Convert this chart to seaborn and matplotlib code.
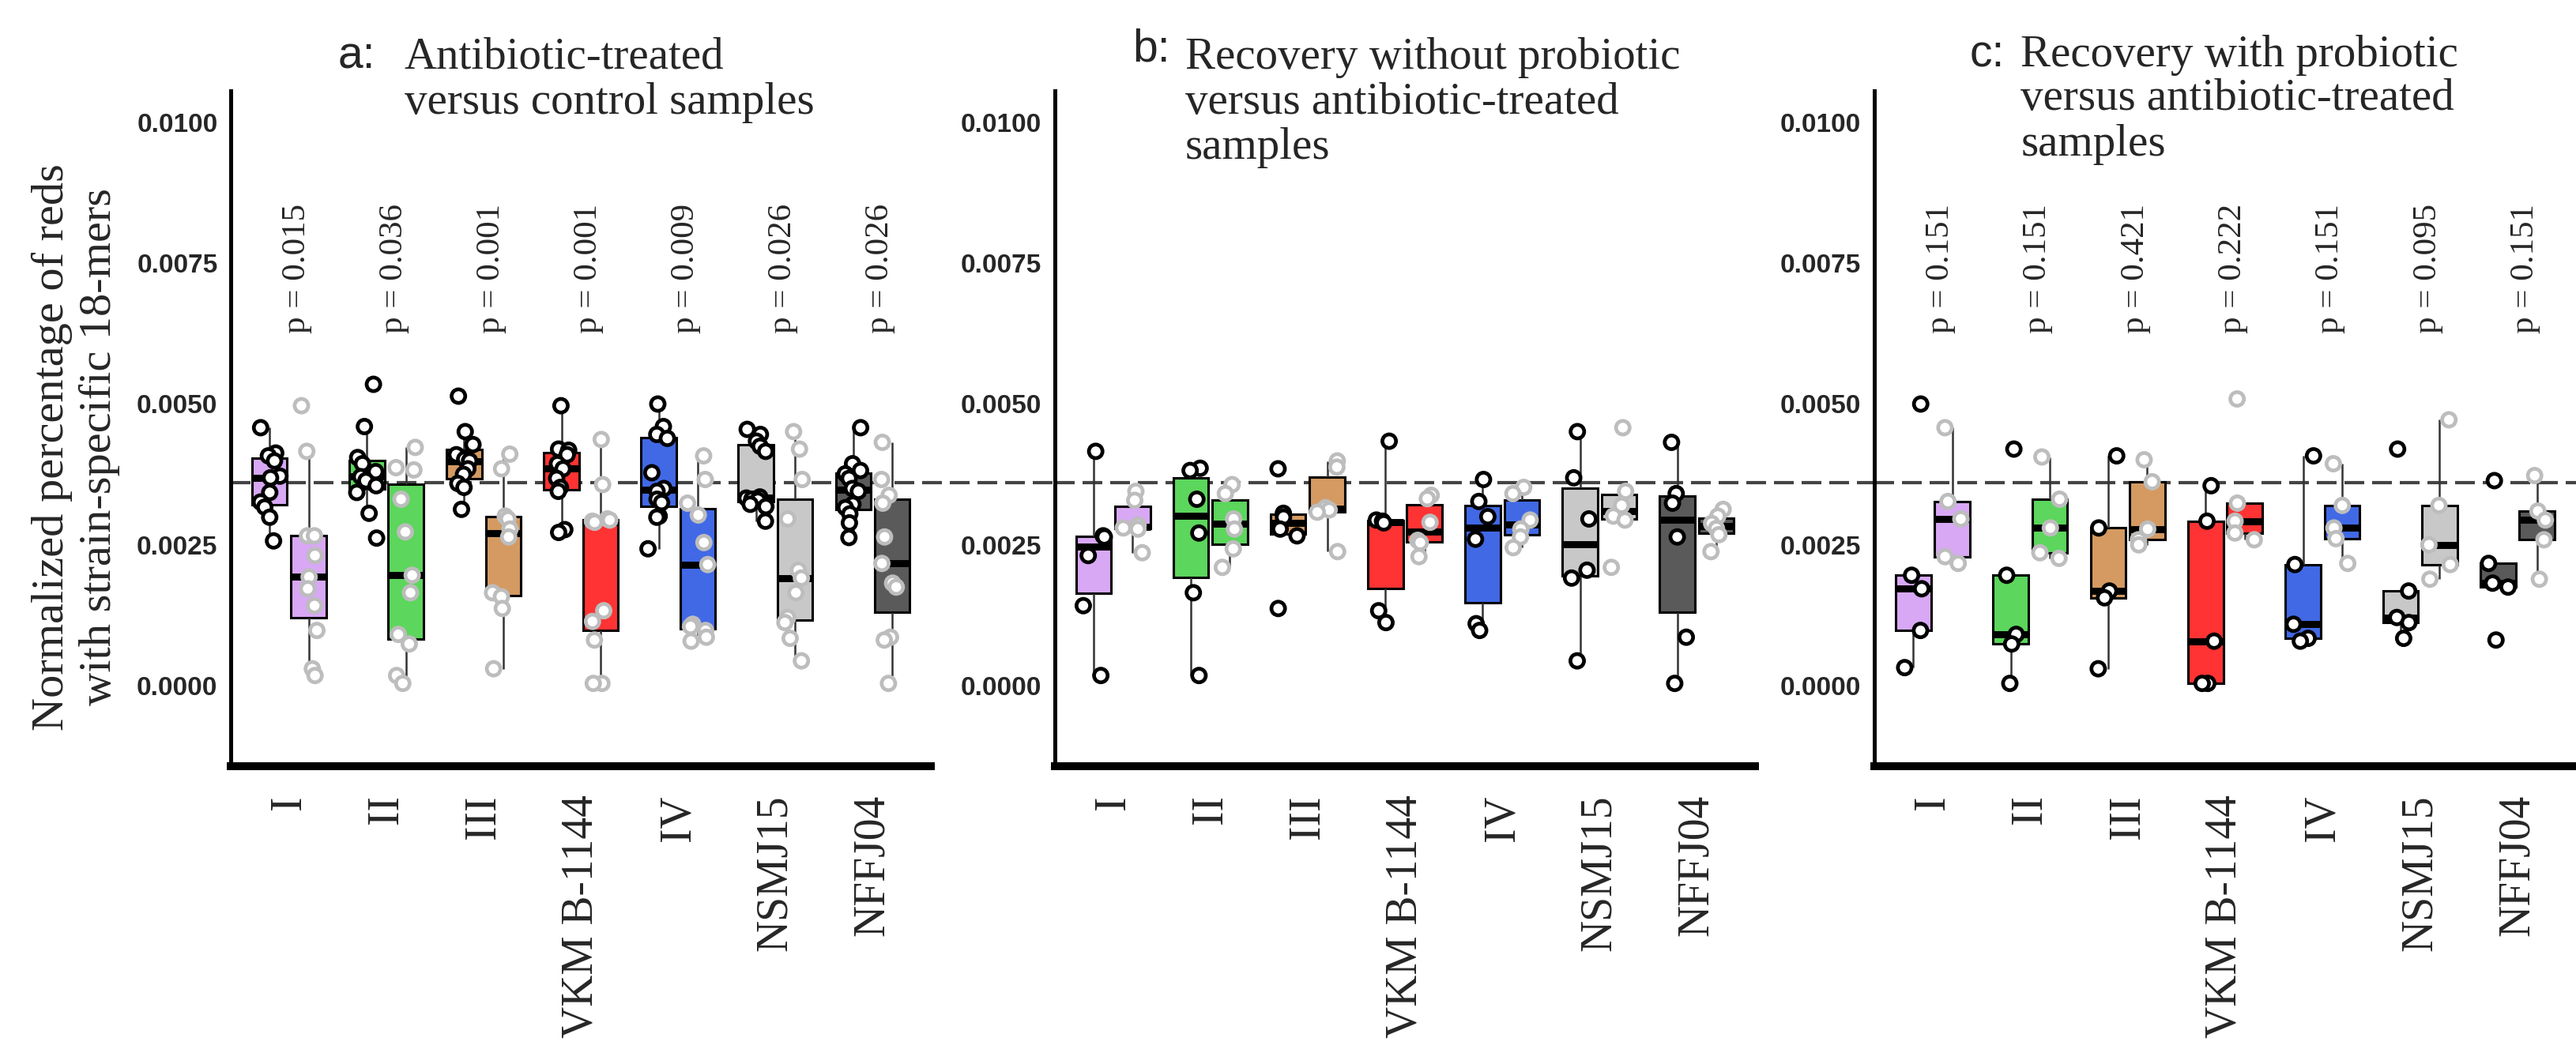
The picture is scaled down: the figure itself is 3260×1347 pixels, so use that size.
import numpy as np
import pandas as pd
import seaborn as sns
import matplotlib.pyplot as plt
from matplotlib import font_manager

np.random.seed(7)

strains = ['I', 'II', 'III', 'VKM B-1144', 'IV', 'NSMJ15', 'NFFJ04']
strain_colors = ['#D8A8F5', '#5CD65C', '#D49A62', '#FF3333', '#4169E6', '#C8C8C8', '#5A5A5A']
groups = ['ref', 'cmp']
point_edges = {'ref': 'black', 'cmp': '#BDBDBD'}

# panel a: antibiotic-treated versus control
a_ref = [
    [0.00458, 0.00413, 0.00408, 0.00399, 0.00372, 0.00369, 0.00343, 0.00326, 0.00317, 0.00299, 0.00257],
    [0.00535, 0.00460, 0.00405, 0.00394, 0.00380, 0.00371, 0.00364, 0.00355, 0.00343, 0.00306, 0.00262],
    [0.00514, 0.00451, 0.00428, 0.00410, 0.00402, 0.00399, 0.00385, 0.00375, 0.00359, 0.00352, 0.00313],
    [0.00497, 0.00420, 0.00418, 0.00410, 0.00394, 0.00385, 0.00368, 0.00352, 0.00345, 0.00277, 0.00272],
    [0.00500, 0.00460, 0.00446, 0.00439, 0.00378, 0.00350, 0.00345, 0.00331, 0.00325, 0.00301, 0.00299, 0.00243],
    [0.00455, 0.00446, 0.00434, 0.00425, 0.00416, 0.00335, 0.00333, 0.00331, 0.00329, 0.00322, 0.00318, 0.00292],
    [0.00458, 0.00394, 0.00382, 0.00376, 0.00368, 0.00350, 0.00345, 0.00322, 0.00316, 0.00305, 0.00289, 0.00263],
]
a_cmp = [
    [0.00497, 0.00416, 0.00266, 0.00266, 0.00231, 0.00193, 0.00172, 0.00142, 0.00098, 0.00030, 0.00018],
    [0.00423, 0.00387, 0.00383, 0.00331, 0.00273, 0.00196, 0.00165, 0.00091, 0.00074, 0.00018, 0.00004],
    [0.00411, 0.00385, 0.00301, 0.00296, 0.00278, 0.00264, 0.00165, 0.00158, 0.00137, 0.00030],
    [0.00437, 0.00357, 0.00296, 0.00294, 0.00292, 0.00290, 0.00133, 0.00114, 0.00081, 0.00004, 0.00004],
    [0.00408, 0.00366, 0.00324, 0.00303, 0.00254, 0.00215, 0.00109, 0.00105, 0.00098, 0.00086, 0.00079],
    [0.00451, 0.00420, 0.00366, 0.00296, 0.00205, 0.00191, 0.00165, 0.00121, 0.00112, 0.00084, 0.00044],
    [0.00432, 0.00366, 0.00338, 0.00324, 0.00264, 0.00217, 0.00182, 0.00175, 0.00086, 0.00081, 0.00004],
]
a_pvals = ['0.015', '0.036', '0.001', '0.001', '0.009', '0.026', '0.026']

# panel b: recovery without probiotic
b_ref = [
    [0.00416, 0.00266, 0.00264, 0.00231, 0.00142, 0.00018],
    [0.00386, 0.00382, 0.00331, 0.00271, 0.00165, 0.00018],
    [0.00385, 0.00306, 0.00299, 0.00278, 0.00266, 0.00137],
    [0.00434, 0.00294, 0.00292, 0.00289, 0.00133, 0.00112],
    [0.00366, 0.00327, 0.00300, 0.00260, 0.00110, 0.00098],
    [0.00451, 0.00369, 0.00296, 0.00205, 0.00191, 0.00044],
    [0.00432, 0.00341, 0.00324, 0.00264, 0.00086, 0.00004],
]
b_cmp = [
    [0.00345, 0.00329, 0.00285, 0.00280, 0.00278, 0.00236],
    [0.00357, 0.00341, 0.00296, 0.00278, 0.00243, 0.00210],
    [0.00399, 0.00388, 0.00316, 0.00312, 0.00308, 0.00238],
    [0.00338, 0.00332, 0.00290, 0.00258, 0.00254, 0.00229],
    [0.00352, 0.00341, 0.00294, 0.00278, 0.00264, 0.00245],
    [0.00458, 0.00345, 0.00320, 0.00301, 0.00294, 0.00210],
    [0.00313, 0.00301, 0.00288, 0.00279, 0.00268, 0.00238],
]
b_pvals = []

# panel c: recovery with probiotic
c_ref = [
    [0.00500, 0.00196, 0.00172, 0.00098, 0.00032],
    [0.00420, 0.00196, 0.00091, 0.00074, 0.00004],
    [0.00408, 0.00280, 0.00168, 0.00156, 0.00030],
    [0.00355, 0.00292, 0.00079, 0.00004, 0.00004],
    [0.00408, 0.00215, 0.00109, 0.00084, 0.00079],
    [0.00420, 0.00168, 0.00121, 0.00112, 0.00084],
    [0.00364, 0.00217, 0.00182, 0.00175, 0.00081],
]
c_cmp = [
    [0.00458, 0.00327, 0.00296, 0.00229, 0.00217],
    [0.00406, 0.00331, 0.00280, 0.00236, 0.00226],
    [0.00401, 0.00362, 0.00278, 0.00259, 0.00250],
    [0.00509, 0.00324, 0.00292, 0.00271, 0.00259],
    [0.00394, 0.00320, 0.00280, 0.00261, 0.00217],
    [0.00472, 0.00320, 0.00250, 0.00215, 0.00189],
    [0.00373, 0.00310, 0.00294, 0.00259, 0.00189],
]
c_pvals = ['0.151', '0.151', '0.421', '0.222', '0.151', '0.095', '0.151']

control_level = 0.0036
yticks = [0.0, 0.0025, 0.005, 0.0075, 0.01]

titles = [
    ('a:', ['Antibiotic-treated', 'versus control samples']),
    ('b:', ['Recovery without probiotic', 'versus antibiotic-treated', 'samples']),
    ('c:', ['Recovery with probiotic', 'versus antibiotic-treated', 'samples']),
]
ylabel = 'Normalized percentage of reds\nwith strain-specific 18-mers'

sns.set_theme(style='white')
installed = {f.name for f in font_manager.fontManager.ttflist}
serif = 'Liberation Serif'
sans = 'Liberation Sans'
narrow = 'Liberation Sans Narrow' if 'Liberation Sans Narrow' in installed else sans
plt.rcParams['font.family'] = [serif, 'DejaVu Serif']


def to_frame(ref, cmp):
    rows = []
    for g, vals in zip(groups, [ref, cmp]):
        for s, v in zip(strains, vals):
            for x in v:
                rows.append({'strain': s, 'group': g, 'value': x})
    return pd.DataFrame(rows)


def draw_panel(ax, ref, cmp, pvals):
    df = to_frame(ref, cmp)
    sns.boxplot(data=df, x='strain', y='value', hue='group', order=strains,
                hue_order=groups, palette={'ref': 'white', 'cmp': 'white'},
                dodge=True, width=0.8, gap=0.1, showfliers=False,
                linecolor='black', linewidth=1.1, legend=False, ax=ax,
                medianprops=dict(linewidth=3.2, color='black'),
                whiskerprops=dict(linewidth=0.9, color='#333333'),
                capprops=dict(visible=False))
    for patch in ax.patches:
        xc = patch.get_path().vertices[:, 0].mean()
        patch.set_facecolor(strain_colors[int(round(xc))])
        patch.set_zorder(1.5)
    for g in groups:
        sns.stripplot(data=df[df['group'] == g], x='strain', y='value', hue='group',
                      order=strains, hue_order=groups,
                      palette={'ref': 'white', 'cmp': 'white'},
                      dodge=True, jitter=0.22, size=6.2, linewidth=1.7,
                      edgecolor=point_edges[g], legend=False, ax=ax, zorder=3)
    for i, p in enumerate(pvals):
        ax.text(i + 0.08, 0.0074, f'p = {p}', rotation=90, ha='center', va='center',
                fontsize=15.5, family=serif)

    ax.set_xlim(-0.6, 6.6)
    ax.set_ylim(-0.00143, 0.01056)
    ax.set_yticks(yticks)
    ax.set_yticklabels([f'{t:.4f}' for t in yticks], fontsize=12,
                       fontweight='bold', family=narrow)
    ax.set_xticks(range(len(strains)))
    ax.set_xticklabels(strains, rotation=90, fontsize=20, family=serif)
    ax.set_xlabel('')
    ax.set_ylabel('')
    ax.tick_params(axis='y', length=3, width=0.8, pad=3, color='#777777')
    ax.tick_params(axis='x', length=4, width=0.8, pad=9, color='#777777')
    for side in ['top', 'right']:
        ax.spines[side].set_visible(False)
    ax.spines['left'].set_linewidth(1.8)
    ax.spines['left'].set_color('black')
    ax.spines['bottom'].set_linewidth(3.6)
    ax.spines['bottom'].set_color('black')


fig = plt.figure(figsize=(16.3, 6.735), dpi=200)
lefts = [0.0896, 0.4095, 0.7276]
widths = [0.2718, 0.2718, 0.2724]
bottom, height = 0.2799, 0.6347
axes = [fig.add_axes([l, bottom, w, height]) for l, w in zip(lefts, widths)]

panels = [(a_ref, a_cmp, a_pvals), (b_ref, b_cmp, b_pvals), (c_ref, c_cmp, c_pvals)]
for i, (ax, (ref, cmp, pv)) in enumerate(zip(axes, panels)):
    draw_panel(ax, ref, cmp, pv)
    if i < 2:
        reach = (lefts[i + 1] - lefts[i]) / widths[i]
    else:
        reach = 1.0
    ax.axhline(control_level, xmin=0, xmax=reach, color='#444444', lw=1.5,
               ls=(0, (6, 2.4)), clip_on=False, zorder=0.5)

# panel titles
letter_pos = [(0.1313, 0.9361), (0.4396, 0.9421), (0.7647, 0.9376)]
text_x = [0.157, 0.4601, 0.7844]
line_y = [[0.9361, 0.8931], [0.9354, 0.8931, 0.8507], [0.9376, 0.8968, 0.8537]]
for (letter, lines), (lx, ly), tx, ys in zip(titles, letter_pos, text_x, line_y):
    fig.text(lx, ly, letter, fontsize=20.5, family=narrow, va='baseline', ha='left')
    for line, y in zip(lines, ys):
        fig.text(tx, y, line, fontsize=20.5, family=serif, va='baseline', ha='left')

fig.text(0.0295, 0.58, ylabel, rotation=90, ha='center', va='center',
         fontsize=21, family=serif, multialignment='center')

fig.savefig('out.png', dpi=200)
